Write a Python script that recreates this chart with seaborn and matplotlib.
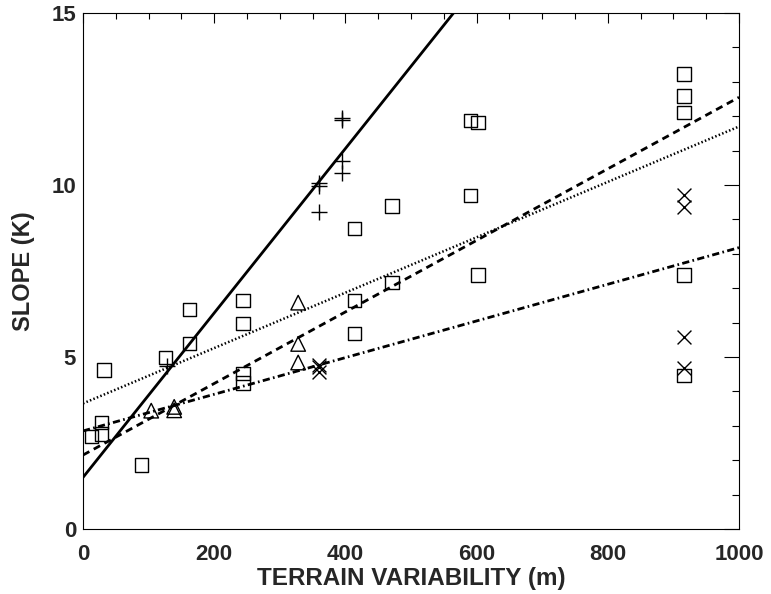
import numpy as np
import pandas as pd
import seaborn as sns
import matplotlib.pyplot as plt
from matplotlib.ticker import MultipleLocator

# data
square_x = [13, 28, 28, 32, 89, 126, 162, 162, 244, 244, 244, 244, 414, 414, 414,
            471, 471, 591, 602, 591, 602, 916, 916, 916, 916, 916]
square_y = [2.69, 3.09, 2.76, 4.62, 1.86, 4.99, 6.39, 5.40, 6.64, 5.98, 4.52, 4.24,
            6.64, 5.68, 8.74, 7.17, 9.39, 11.87, 11.81, 9.70, 7.38, 13.23, 12.59,
            12.10, 7.38, 4.47]
plus_x = [128, 360, 360, 360, 395, 395, 395, 395]
plus_y = [4.75, 10.07, 9.97, 9.21, 11.95, 11.90, 10.69, 10.34]
tri_x = [104, 139, 139, 328, 328, 328]
tri_y = [3.44, 3.55, 3.45, 6.58, 5.38, 4.84]
cross_x = [360, 360, 360, 916, 916, 916, 916]
cross_y = [4.78, 4.72, 4.55, 9.71, 9.37, 5.59, 4.67]

line_x = [0, 1000]
solid_y = [1.50, 25.4]
dashed_y = [2.15, 12.55]
dotted_y = [3.65, 11.70]
dashdot_y = [2.85, 8.18]

sns.set_style("white")
plt.rcParams['font.family'] = ['Liberation Sans', 'DejaVu Sans']
plt.rcParams['font.weight'] = 'bold'

fig = plt.figure(figsize=(7.71, 5.94), dpi=100)
ax = fig.add_axes([83 / 771, 1 - 529 / 594, 656 / 771, 516 / 594])

# fit lines
sns.lineplot(x=line_x, y=solid_y, ax=ax, color='black', lw=2.0, linestyle='-')
sns.lineplot(x=line_x, y=dashed_y, ax=ax, color='black', lw=2.0, linestyle=(0, (2.6, 1.8)))
sns.lineplot(x=line_x, y=dotted_y, ax=ax, color='black', lw=1.8, linestyle=(0, (0.6, 0.9)))
sns.lineplot(x=line_x, y=dashdot_y, ax=ax, color='black', lw=2.0, linestyle=(0, (2.6, 1.2, 0.6, 1.2)))

# symbols
sns.scatterplot(x=square_x, y=square_y, ax=ax, marker='s', s=92,
                facecolor='none', edgecolor='black', linewidth=1.0, zorder=3)
sns.scatterplot(x=plus_x, y=plus_y, ax=ax, marker='+', s=120,
                color='black', linewidth=1.0, zorder=3)
sns.scatterplot(x=tri_x, y=tri_y, ax=ax, marker='^', s=110,
                facecolor='none', edgecolor='black', linewidth=1.0, zorder=3)
sns.scatterplot(x=cross_x, y=cross_y, ax=ax, marker='x', s=100,
                color='black', linewidth=1.0, zorder=3)

ax.set_xlim(0, 1000)
ax.set_ylim(0, 15)
ax.xaxis.set_major_locator(MultipleLocator(200))
ax.xaxis.set_minor_locator(MultipleLocator(50))
ax.yaxis.set_major_locator(MultipleLocator(5))
ax.yaxis.set_minor_locator(MultipleLocator(1))
ax.tick_params(axis='both', which='both', direction='in', top=True, right=True,
               color='black', width=0.8)
ax.tick_params(axis='x', which='major', length=7.5, pad=11, labelsize=16)
ax.tick_params(axis='x', which='minor', length=4)
ax.tick_params(axis='y', which='major', length=11, pad=5, labelsize=16)
ax.tick_params(axis='y', which='minor', length=5)
for s in ax.spines.values():
    s.set_color('black')
    s.set_linewidth(0.8)

ax.set_xlabel("TERRAIN VARIABILITY (m)", fontsize=17.5, fontweight='bold', labelpad=1)
ax.set_ylabel("SLOPE (K)", fontsize=17, fontweight='bold', labelpad=12)

plt.savefig("out.png", dpi=100)
